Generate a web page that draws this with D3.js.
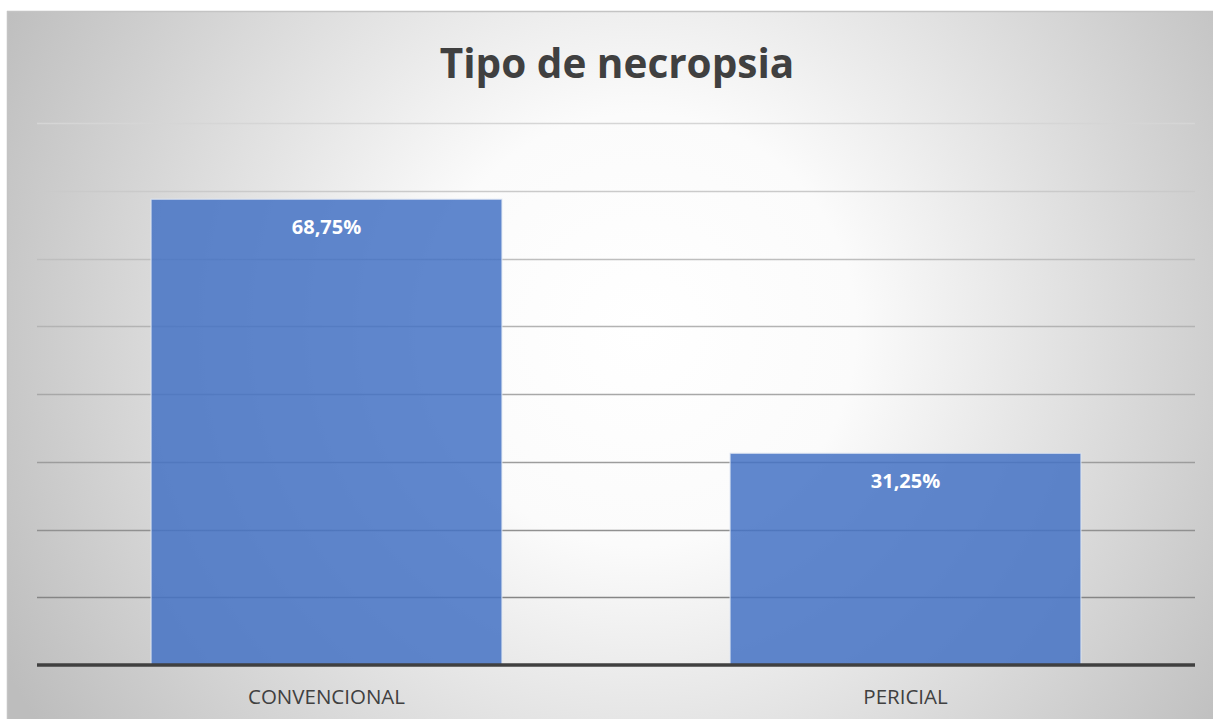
<!DOCTYPE html>
<html><head><meta charset="utf-8">
<script src="https://cdn.jsdelivr.net/npm/d3@7"></script>
<style>html,body{margin:0;padding:0;background:#fff;overflow:hidden}</style>
</head><body>
<svg id="c" width="1213" height="719"></svg>
<script>
const categories = ["CONVENCIONAL", "PERICIAL"];
const values = [68.75, 31.25];
const valueLabels = ["68,75%", "31,25%"];
const yTicks = [0, 10, 20, 30, 40, 50, 60, 70, 80];
const title = "Tipo de necropsia";

const svg = d3.select("#c");
const defs = svg.append("defs");
const rg = defs.append("radialGradient").attr("id","bg")
  .attr("gradientUnits","userSpaceOnUse").attr("cx",640).attr("cy",330).attr("r",720);
rg.append("stop").attr("offset","0%").attr("stop-color","#ffffff");
rg.append("stop").attr("offset","30%").attr("stop-color","#fbfbfb");
rg.append("stop").attr("offset","100%").attr("stop-color","#bdbdbd");
const lg = defs.append("linearGradient").attr("id","grid")
  .attr("gradientUnits","userSpaceOnUse").attr("x1",0).attr("y1",120).attr("x2",0).attr("y2",600);
lg.append("stop").attr("offset","0%").attr("stop-color","#d6d6d6");
lg.append("stop").attr("offset","100%").attr("stop-color","#858585");

svg.append("rect").attr("x",7).attr("y",11).attr("width",1206).attr("height",708)
  .attr("fill","url(#bg)");
svg.append("line").attr("x1",7).attr("x2",1213).attr("y1",11.5).attr("y2",11.5).attr("stroke","#c4c4c4").attr("stroke-width",1.5);
svg.append("line").attr("x1",7.5).attr("x2",7.5).attr("y1",11).attr("y2",719).attr("stroke","#c4c4c4").attr("stroke-width",1.5);

const x = d3.scaleBand().domain(categories).range([37,1195]).paddingInner(0.394).paddingOuter(0.197);
const y = d3.scaleLinear().domain([0,80]).range([665,123]);

svg.append("g").selectAll("line").data(yTicks.filter(d=>d>0)).join("line")
  .attr("x1",37).attr("x2",1195).attr("y1",d=>Math.round(y(d))+0.5).attr("y2",d=>Math.round(y(d))+0.5)
  .attr("stroke","url(#grid)").attr("stroke-width",1.3);

svg.append("g").selectAll("rect").data(values).join("rect")
  .attr("x",(d,i)=>x(categories[i])).attr("width",x.bandwidth())
  .attr("y",d=>y(d)).attr("height",d=>y(0)-y(d))
  .attr("fill","#4472c4").attr("fill-opacity",0.85)
  .attr("stroke","#dfe6f3").attr("stroke-width",1.2).attr("stroke-opacity",0.8);

svg.append("line").attr("x1",37).attr("x2",1195).attr("y1",y(0)).attr("y2",y(0))
  .attr("stroke","#404040").attr("stroke-width",3.5);

svg.append("g").selectAll("text").data(values).join("text")
  .attr("x",(d,i)=>x(categories[i])+x.bandwidth()/2).attr("y",d=>y(d)+35)
  .attr("text-anchor","middle").attr("fill","#fff")
  .style("font-family","'Open Sans', sans-serif").style("font-weight","bold").style("font-size","20px")
  .text((d,i)=>valueLabels[i]);

svg.append("g").selectAll("text").data(categories).join("text")
  .attr("x",d=>x(d)+x.bandwidth()/2).attr("y",704)
  .attr("text-anchor","middle").attr("fill","#404040")
  .style("font-family","'Open Sans', sans-serif").style("font-size","20.5px")
  .text(d=>d);

svg.append("text").attr("x",617).attr("y",78).attr("text-anchor","middle")
  .attr("fill","#404040")
  .style("font-family","'Open Sans', sans-serif").style("font-weight","bold").style("font-size","40.5px")
  .text(title);
</script>
</body></html>
